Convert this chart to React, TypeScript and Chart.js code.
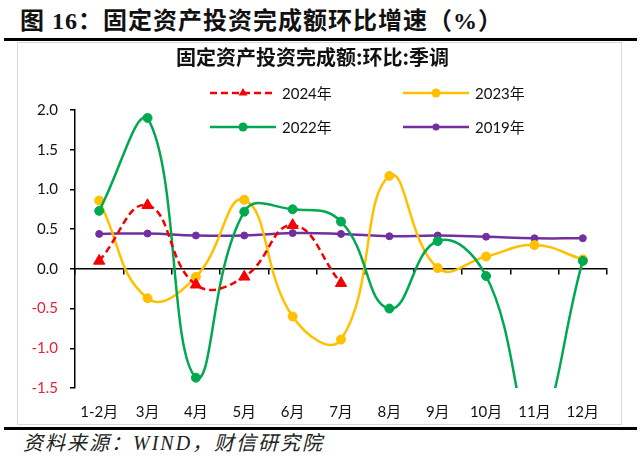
import React, { useEffect, useRef } from 'react';
import { Chart, registerables } from 'chart.js';

Chart.register(...registerables);

const headerText = '图 16：固定资产投资完成额环比增速（%）';
const chartTitle = '固定资产投资完成额:环比:季调';
const sourceText = '资料来源：WIND，财信研究院';

const categories = ['1-2月', '3月', '4月', '5月', '6月', '7月', '8月', '9月', '10月', '11月', '12月'];
const seriesNames = ['2024年', '2023年', '2022年', '2019年'];
const values2024 = [0.1, 0.8, -0.2, -0.1, 0.55, -0.18];
const values2023 = [0.86, -0.37, -0.1, 0.87, -0.6, -0.89, 1.17, 0.01, 0.155, 0.3, 0.12];
const values2022 = [0.73, 1.9, -1.37, 0.72, 0.75, 0.595, -0.5, 0.35, -0.09, -2.0, 0.1];
const values2019 = [0.44, 0.445, 0.42, 0.42, 0.45, 0.44, 0.41, 0.42, 0.405, 0.385, 0.385];
const yTicksMin = -1.5;
const yTicksMax = 2.0;
const yTicksStep = 0.5;

const RED = '#F50000';
const GOLD = '#FFC000';
const GREEN = '#00A84F';
const PURPLE = '#7030A0';
const NEG_LABEL = '#E8203A';

const latinFont = "Lato, 'Noto Sans CJK SC', sans-serif";
const cjkFont = "'Noto Sans CJK SC', sans-serif";
const TENSION = 0.45;

const legendPlugin = {
  id: 'gridLegend',
  afterDraw(chart: any) {
    const ctx = chart.ctx as CanvasRenderingContext2D;
    const slots = [
      { x: 192, y: 50 },
      { x: 385, y: 50 },
      { x: 192, y: 84 },
      { x: 385, y: 84 },
    ];
    const lineLen = 66;
    chart.data.datasets.forEach((ds: any, i: number) => {
      const s = slots[i];
      if (!s) return;
      ctx.save();
      ctx.strokeStyle = ds.borderColor;
      ctx.lineWidth = ds.borderWidth;
      ctx.setLineDash(ds.borderDash || []);
      ctx.beginPath();
      ctx.moveTo(s.x, s.y);
      ctx.lineTo(s.x + lineLen, s.y);
      ctx.stroke();
      ctx.setLineDash([]);
      const cx = s.x + lineLen / 2;
      ctx.fillStyle = ds.pointBackgroundColor;
      ctx.beginPath();
      if (ds.pointStyle === 'triangle') {
        const r = 5;
        ctx.moveTo(cx, s.y - r);
        ctx.lineTo(cx + r * 0.866, s.y + r / 2);
        ctx.lineTo(cx - r * 0.866, s.y + r / 2);
        ctx.closePath();
      } else {
        ctx.arc(cx, s.y, ds.pointRadius, 0, Math.PI * 2);
      }
      ctx.fill();
      ctx.fillStyle = '#111';
      ctx.font = `15px ${latinFont}`;
      ctx.textBaseline = 'middle';
      ctx.textAlign = 'left';
      ctx.fillText(ds.label, s.x + lineLen + 6, s.y + 1);
      ctx.restore();
    });
  },
};

export default function App() {
  const ref = useRef<HTMLCanvasElement>(null);

  useEffect(() => {
    document.body.style.margin = '0';
    const tickFont = { family: latinFont, size: 15 };
    const chart = new Chart(ref.current as HTMLCanvasElement, {
      type: 'line',
      data: {
        labels: categories,
        datasets: [
          {
            label: seriesNames[0],
            data: values2024,
            borderColor: RED,
            backgroundColor: RED,
            borderWidth: 2.5,
            borderDash: [7, 4],
            pointStyle: 'triangle',
            pointRadius: 6.5,
            pointBackgroundColor: RED,
            pointBorderColor: RED,
            pointBorderWidth: 1,
            tension: TENSION,
            order: 0,
          },
          {
            label: seriesNames[1],
            data: values2023,
            borderColor: GOLD,
            backgroundColor: GOLD,
            borderWidth: 2.5,
            pointStyle: 'circle',
            pointRadius: 4.5,
            pointBackgroundColor: GOLD,
            pointBorderColor: GOLD,
            pointBorderWidth: 1,
            tension: TENSION,
            order: 2,
          },
          {
            label: seriesNames[2],
            data: values2022,
            borderColor: GREEN,
            backgroundColor: GREEN,
            borderWidth: 2.5,
            pointStyle: 'circle',
            pointRadius: 4.5,
            pointBackgroundColor: GREEN,
            pointBorderColor: GREEN,
            pointBorderWidth: 1,
            tension: TENSION,
            order: 1,
          },
          {
            label: seriesNames[3],
            data: values2019,
            borderColor: PURPLE,
            backgroundColor: PURPLE,
            borderWidth: 2.5,
            pointStyle: 'circle',
            pointRadius: 3.5,
            pointBackgroundColor: PURPLE,
            pointBorderColor: PURPLE,
            pointBorderWidth: 1,
            tension: TENSION,
            order: 3,
          },
        ],
      },
      options: {
        responsive: false,
        animation: false,
        layout: { padding: { left: 0, right: 14, top: 0, bottom: 0 } },
        plugins: {
          legend: { display: false },
          tooltip: { enabled: false },
          title: {
            display: true,
            text: chartTitle,
            color: '#111',
            font: { family: cjkFont, size: 20, weight: 'bold', lineHeight: 1.2 },
            padding: { top: 2, bottom: 41 },
          },
        },
        scales: {
          x: {
            type: 'category',
            position: { y: 0 },
            offset: true,
            ticks: { display: false },
            grid: {
              display: true,
              offset: true,
              drawOnChartArea: false,
              drawTicks: true,
              tickLength: 5,
              color: '#000',
              lineWidth: 1.5,
            },
            border: { display: true, color: '#000', width: 1.5 },
          },
          x2: {
            type: 'category',
            position: 'bottom',
            offset: true,
            grid: { display: false, drawTicks: false, offset: true },
            border: { display: false },
            ticks: { padding: 15, font: tickFont, color: '#111', maxRotation: 0, autoSkip: false },
            afterFit: (s: any) => {
              s.height = 36;
            },
          },
          y: {
            min: yTicksMin,
            max: yTicksMax,
            ticks: {
              stepSize: yTicksStep,
              padding: 12,
              font: tickFont,
              callback: (v: any) => Number(v).toFixed(1),
              color: (c: any) => (c.tick && c.tick.value < 0 ? NEG_LABEL : '#111'),
            },
            grid: {
              drawOnChartArea: false,
              drawTicks: true,
              tickLength: 5,
              color: '#000',
              lineWidth: 1.5,
            },
            border: { display: true, color: '#000', width: 1.5 },
            afterFit: (s: any) => {
              s.width = 57;
            },
          },
        },
      } as any,
      plugins: [legendPlugin],
    });
    return () => chart.destroy();
  }, []);

  return (
    <div style={{ position: 'fixed', left: 0, top: 0, width: 640, height: 460, background: '#fff', overflow: 'hidden' }}>
      <div
        style={{
          position: 'absolute',
          left: 20,
          top: 7,
          height: 28,
          lineHeight: '28px',
          fontSize: 24,
          fontWeight: 'bold',
          fontFamily: "'Liberation Serif', 'Noto Sans CJK SC', serif",
          letterSpacing: 1,
          whiteSpace: 'nowrap',
          color: '#111',
        }}
      >
        {headerText}
      </div>
      <div style={{ position: 'absolute', left: 4, top: 38, width: 633, height: 3, background: '#000' }} />
      <div
        style={{
          position: 'absolute',
          left: 17,
          top: 42,
          width: 603,
          height: 381,
          border: '1px solid #d9d9d9',
        }}
      >
        <canvas ref={ref} width={603} height={381} style={{ display: 'block', width: 603, height: 381 }} />
      </div>
      <div style={{ position: 'absolute', left: 4, top: 427, width: 633, height: 3, background: '#000' }} />
      <div
        style={{
          position: 'absolute',
          left: 23,
          top: 431,
          height: 24,
          lineHeight: '24px',
          fontSize: 20,
          fontStyle: 'italic',
          fontFamily: "'Liberation Serif', 'Noto Sans CJK SC', serif",
          letterSpacing: 2,
          whiteSpace: 'nowrap',
          color: '#222',
        }}
      >
        {sourceText}
      </div>
    </div>
  );
}
